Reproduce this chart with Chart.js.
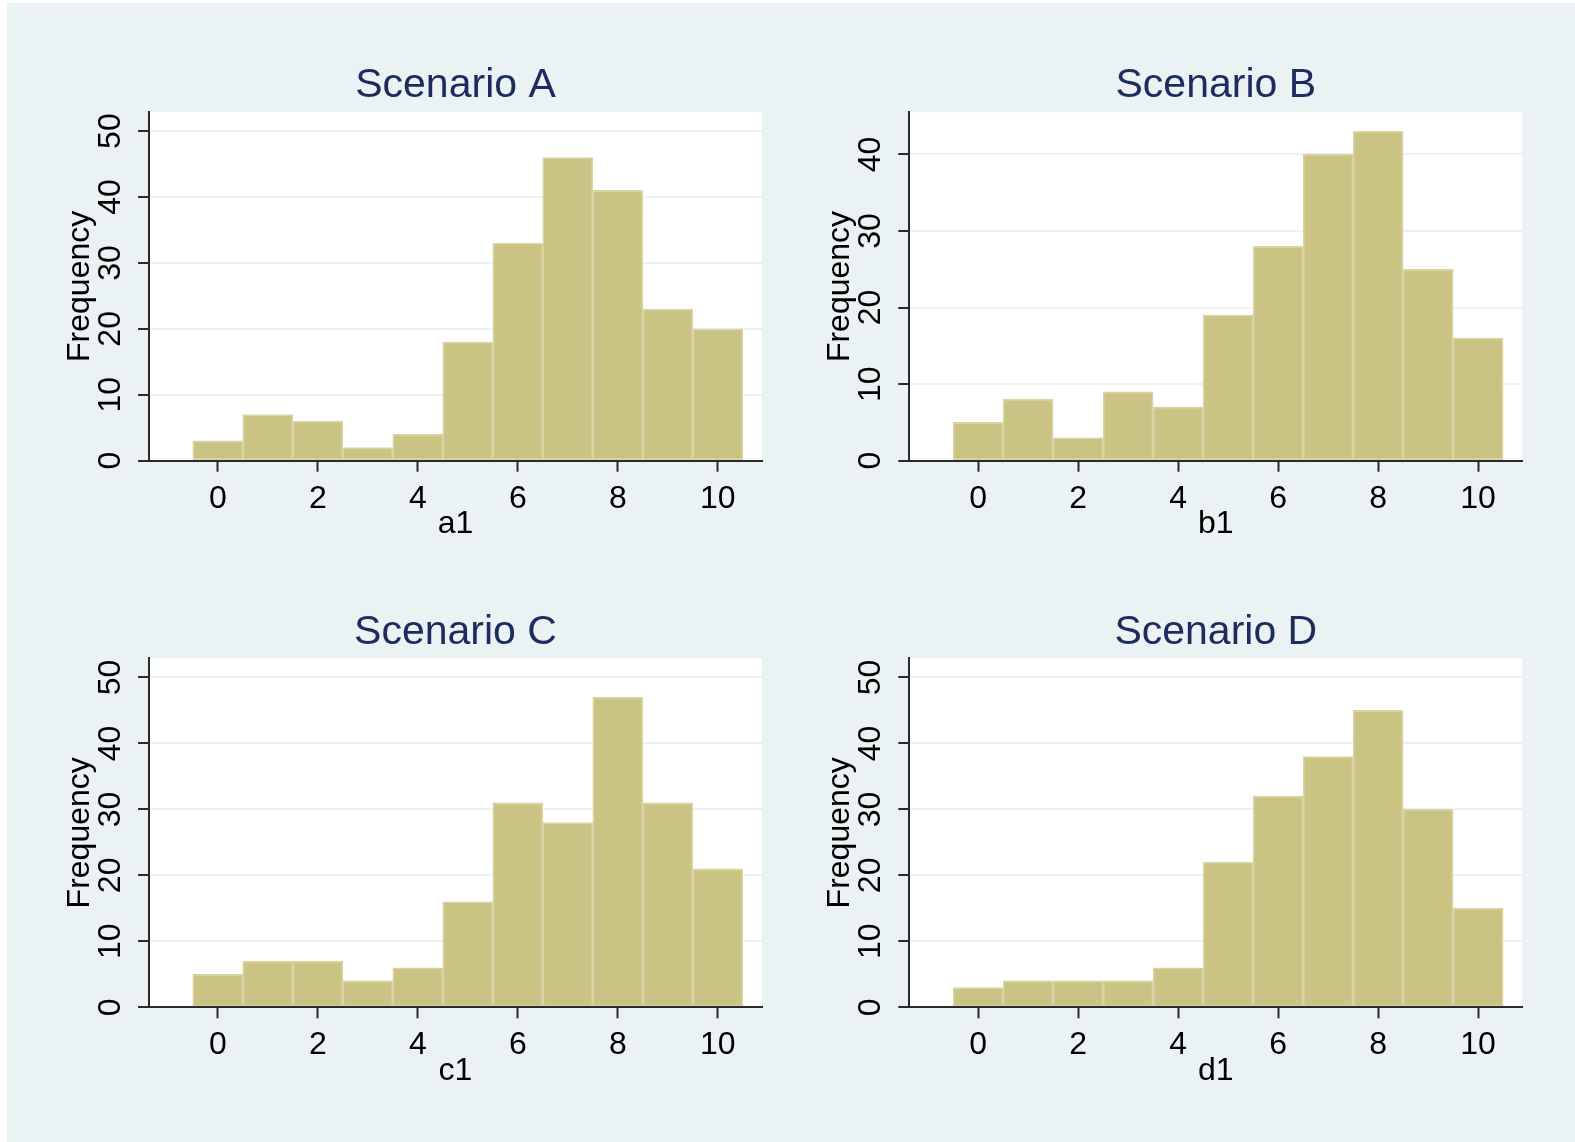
<!DOCTYPE html>
<html>
<head>
<meta charset="utf-8">
<script src="https://cdn.jsdelivr.net/npm/chart.js@4/dist/chart.umd.min.js"></script>
<style>
html,body{margin:0;padding:0;background:#ffffff;width:1575px;height:1142px;overflow:hidden;}
#bg{position:absolute;left:7px;top:3px;width:1568px;height:1139px;background:#EAF2F3;}
canvas{position:absolute;}
</style>
</head>
<body>
<div id="bg"></div>
<canvas id="cA" width="783" height="557" style="left:7px;top:3px"></canvas>
<canvas id="cB" width="785" height="557" style="left:790px;top:3px"></canvas>
<canvas id="cC" width="783" height="582" style="left:7px;top:560px"></canvas>
<canvas id="cD" width="785" height="582" style="left:790px;top:560px"></canvas>
<script>
// ---- data ----
const bins = [0, 1, 2, 3, 4, 5, 6, 7, 8, 9, 10];
const freqA = [3, 7, 6, 2, 4, 18, 33, 46, 41, 23, 20];
const freqB = [5, 8, 3, 9, 7, 19, 28, 40, 43, 25, 16];
const freqC = [5, 7, 7, 4, 6, 16, 31, 28, 47, 31, 21];
const freqD = [3, 4, 4, 4, 6, 22, 32, 38, 45, 30, 15];
const xTickValues = [0, 2, 4, 6, 8, 10];
const xTickLabels = ['0', '2', '4', '6', '8', '10'];
const yTickValues50 = [0, 10, 20, 30, 40, 50];
const yTickLabels50 = ['0', '10', '20', '30', '40', '50'];
const yTickValues40 = [0, 10, 20, 30, 40];
const yTickLabels40 = ['0', '10', '20', '30', '40'];
const panelTitles = ['Scenario A', 'Scenario B', 'Scenario C', 'Scenario D'];
const xAxisTitles = ['a1', 'b1', 'c1', 'd1'];
const yAxisTitle = 'Frequency';

Chart.defaults.font.family = "'Liberation Sans', Arial, Helvetica, sans-serif";

const plotBg = {
  id: 'plotBg',
  beforeDraw(chart) {
    const a = chart.chartArea;
    const ctx = chart.ctx;
    ctx.save();
    ctx.fillStyle = '#ffffff';
    ctx.fillRect(a.left, a.top, a.right - a.left, a.bottom - a.top);
    ctx.restore();
  }
};

const AXIS = '#2a2a2a';
const GRID = '#EAF2F3';

function makePanel(cfg) {
  const ctx = document.getElementById(cfg.id);
  return new Chart(ctx, {
    type: 'bar',
    data: {
      datasets: [{
        data: bins.map((b, i) => ({ x: b, y: cfg.values[i] })),
        backgroundColor: '#CBC383',
        borderColor: '#DAD4A4',
        borderWidth: 1.7,
        borderSkipped: false,
        barPercentage: 1,
        categoryPercentage: 1
      }]
    },
    options: {
      responsive: false,
      devicePixelRatio: 1,
      animation: false,
      events: [],
      layout: { padding: { left: 0, top: 0, right: cfg.padR, bottom: 0 } },
      plugins: {
        legend: { display: false },
        tooltip: { enabled: false },
        title: {
          display: true,
          fullSize: false,
          text: cfg.title,
          color: '#1e2b5e',
          font: { size: 41, weight: 'normal', lineHeight: 1 },
          padding: { top: cfg.tPad[0], bottom: cfg.tPad[1] }
        }
      },
      scales: {
        x: {
          type: 'linear',
          offset: false,
          min: -1.376,
          max: 10.884,
          afterBuildTicks: (s) => { s.ticks = xTickValues.map(v => ({ value: v })); },
          afterFit: (s) => { s.height = cfg.xH; },
          grid: { display: true, offset: false, drawOnChartArea: false, drawTicks: true, tickLength: 11, tickColor: AXIS, tickWidth: 2 },
          border: { display: true, color: AXIS, width: 2, z: 1 },
          ticks: {
            autoSkip: false, maxRotation: 0, minRotation: 0, padding: cfg.xTickPad,
            color: '#000000', font: { size: 32 },
            callback: (v, i) => xTickLabels[i]
          },
          title: {
            display: true, text: cfg.xTitle, color: '#000000',
            font: { size: 32 }, padding: { top: 0, bottom: cfg.xTitlePadB }
          }
        },
        y: {
          type: 'linear',
          min: 0,
          max: cfg.yMax,
          afterBuildTicks: (s) => { s.ticks = cfg.yTicks.map(v => ({ value: v })); },
          afterFit: (s) => { s.width = cfg.yW; },
          grid: { display: true, drawOnChartArea: true, drawTicks: true, color: GRID, lineWidth: 2, tickLength: 11, tickColor: AXIS, tickWidth: 2 },
          border: { display: true, color: AXIS, width: 2, z: 1 },
          ticks: {
            autoSkip: false, minRotation: 90, maxRotation: 90, crossAlign: 'center', padding: 9.5,
            color: '#000000', font: { size: 32 },
            callback: (v, i) => cfg.yLabels[i]
          },
          title: {
            display: true, text: yAxisTitle, color: '#000000',
            font: { size: 32 }, padding: { top: cfg.yTitlePad, bottom: 0 }
          }
        }
      }
    },
    plugins: [plotBg]
  });
}

makePanel({ id: 'cA', values: freqA, title: panelTitles[0], xTitle: xAxisTitles[0],
  yTicks: yTickValues50, yLabels: yTickLabels50, yMax: 52.9,
  yW: 142, xH: 99.3, padR: 28, tPad: [62, 6], yTitlePad: 53.6, xTitlePadB: 16.8, xTickPad: 8.5 });
makePanel({ id: 'cB', values: freqB, title: panelTitles[1], xTitle: xAxisTitles[1],
  yTicks: yTickValues40, yLabels: yTickLabels40, yMax: 45.5,
  yW: 119.3, xH: 99.3, padR: 52.7, tPad: [62, 6.3], yTitlePad: 30.9, xTitlePadB: 16.8, xTickPad: 8.5 });
makePanel({ id: 'cC', values: freqC, title: panelTitles[2], xTitle: xAxisTitles[2],
  yTicks: yTickValues50, yLabels: yTickLabels50, yMax: 52.9,
  yW: 142, xH: 134.7, padR: 28, tPad: [52, 5.3], yTitlePad: 53.6, xTitlePadB: 51.3, xTickPad: 7.5 });
makePanel({ id: 'cD', values: freqD, title: panelTitles[3], xTitle: xAxisTitles[3],
  yTicks: yTickValues50, yLabels: yTickLabels50, yMax: 52.9,
  yW: 119.3, xH: 134.7, padR: 52.7, tPad: [52, 5.3], yTitlePad: 30.9, xTitlePadB: 51.3, xTickPad: 7.5 });
</script>
</body>
</html>
